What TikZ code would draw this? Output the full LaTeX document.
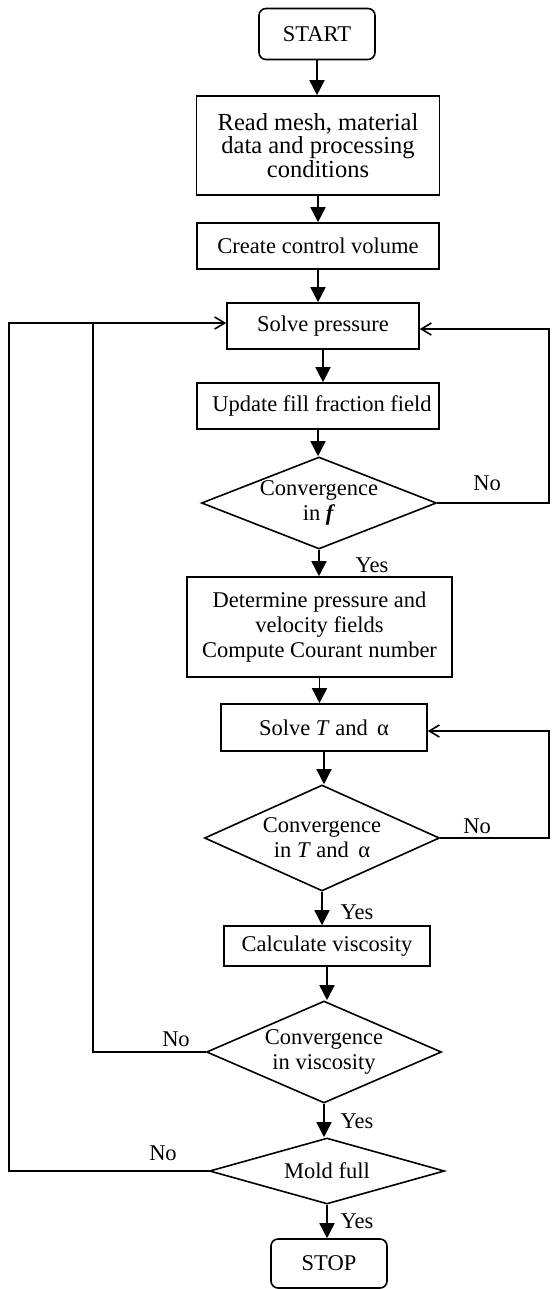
\documentclass[tikz,border=0pt]{standalone}
\usepackage{fontspec}
\setmainfont{Liberation Serif}
\usetikzlibrary{shapes.geometric,arrows.meta}

\tikzset{
  box/.style={draw, line width=1.6pt, rectangle, align=center, inner sep=0pt},
  term/.style={box, rounded corners=7pt, minimum width=116pt, minimum height=51pt},
  test/.style={draw, line width=1.6pt, diamond, align=center, inner sep=0pt, aspect=2.5, minimum width=235pt},
  flow/.style={line width=1.6pt, -{Triangle[length=15pt,width=15pt]}},
  back/.style={line width=1.6pt, -{Straight Barb[length=10pt,width=12pt]}},
  lbl/.style={inner sep=0pt}
}

\begin{document}
\begin{tikzpicture}[x=1pt, y=-1pt, font=\fontsize{22.5}{25}\selectfont]
    \useasboundingbox (0,0) rectangle (551,1289);

    % main column
    \node[term] (start) at (317,34) {START};
    \node[box, minimum width=243pt, minimum height=99pt, font=\fontsize{24.5}{23.5}\selectfont] (read) at (318,145.5) {Read mesh, material\\data and processing\\conditions};
    \node[box, minimum width=242pt, minimum height=46pt] (create) at (318,246) {Create control volume};
    \node[box, minimum width=192pt, minimum height=46pt] (solvep) at (323,326) {Solve pressure};
    \node[box, minimum width=242pt, minimum height=46pt] (update) at (318,406) {\hspace{8pt}Update fill fraction field};
    \node[test, minimum height=92pt] (convf) at (319,503) {Convergence\\in \textbf{\textit{f}}};
    \node[box, minimum width=265pt, minimum height=100pt] (determine) at (319.5,627) {Determine pressure and\\velocity fields\\Compute Courant number};
    \node[box, minimum width=206pt, minimum height=47pt] (solvet) at (324,727.5) {Solve \textit{T} and \,α};
    \node[test, minimum height=106pt] (convt) at (322,838) {Convergence\\in \textit{T} and \,α};
    \node[box, minimum width=206pt, minimum height=40pt] (calc) at (327,946) {Calculate viscosity};
    \node[test, minimum height=102pt] (convv) at (324,1052) {Convergence\\in viscosity};
    \node[test, minimum height=66pt, aspect=3.5] (mold) at (327,1171) {Mold full};
    \node[term, minimum height=49pt] (stop) at (329,1263.5) {STOP};

    % branch labels
    \node[lbl] (yesf) at (372,565) {Yes};
    \node[lbl] (nof) at (487,483) {No};
    \node[lbl] (yest) at (357,912) {Yes};
    \node[lbl] (not) at (477,826) {No};
    \node[lbl] (yesv) at (357,1121) {Yes};
    \node[lbl] (nov) at (176,1039) {No};
    \node[lbl] (yesm) at (357,1221) {Yes};
    \node[lbl] (nom) at (163,1153) {No};

    % corners of the loops
    \coordinate (rf) at (549,329);
    \coordinate (rt) at (549,731);
    \coordinate (lv) at (93,323);
    \coordinate (lm) at (9,323);

    \draw[flow] (start.south) -- (start.south |- read.north);
    \draw[flow] (read.south) -- (read.south |- create.north);
    \draw[flow] (create.south) -- (create.south |- solvep.north);
    \draw[flow] (solvep.south) -- (solvep.south |- update.north);
    \draw[flow] (update.south) -- (update.south |- convf.north);
    \draw[flow] (convf.south) -- (convf.south |- determine.north);
    \draw[flow] (determine.south) -- (determine.south |- solvet.north);
    \draw[flow] (solvet.south) -- (solvet.south |- convt.north);
    \draw[flow] (convt.south) -- (convt.south |- calc.north);
    \draw[flow] (calc.south) -- (calc.south |- convv.north);
    \draw[flow] (convv.south) -- (convv.south |- mold.north);
    \draw[flow] (mold.south) -- (mold.south |- stop.north);

    \draw[back] (convf.east) -| (rf) -- (rf -| solvep.east);
    \draw[back] (convt.east) -| (rt) -- (rt -| solvet.east);
    \draw[back] (convv.west) -| (lv) -- (lv -| solvep.west);
    \draw[line width=1.6pt] (mold.west) -| (lm) -- (lv);
\end{tikzpicture}
\end{document}
